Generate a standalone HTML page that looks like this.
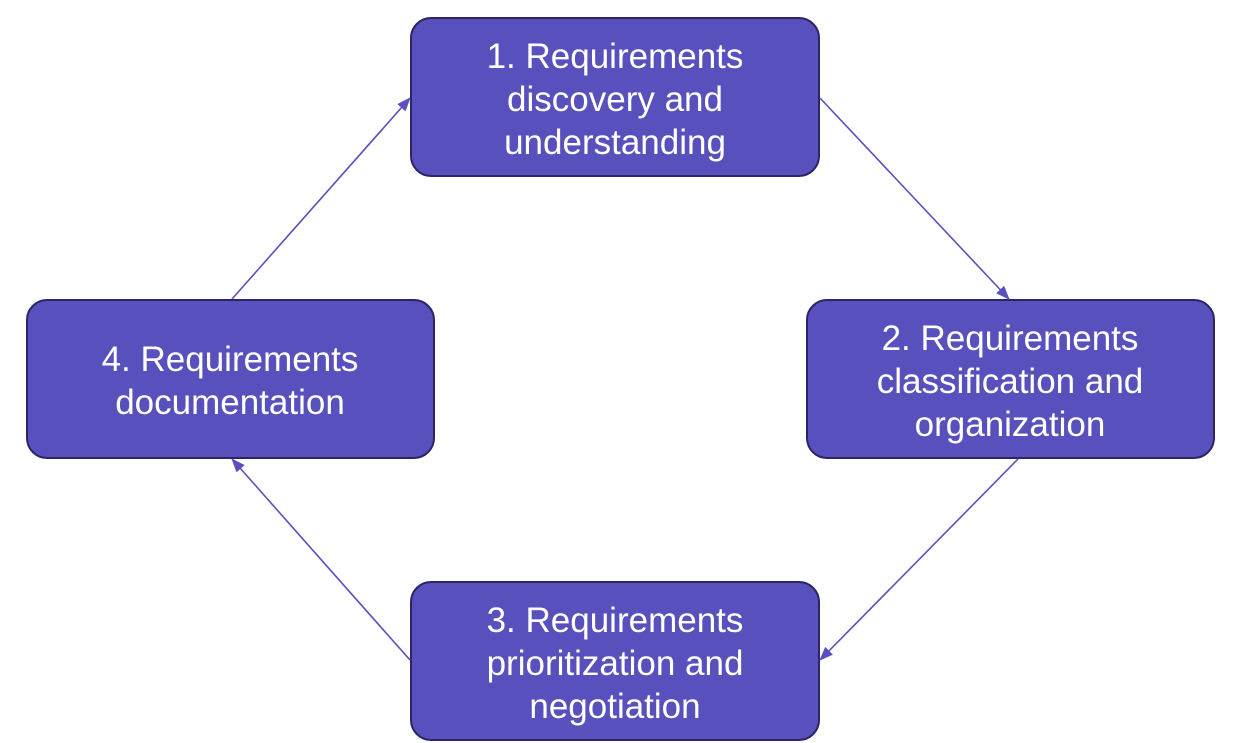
<!DOCTYPE html>
<html><head><meta charset="utf-8"><style>
html,body{margin:0;padding:0;background:#fff;}
svg{display:block;}
text{font-family:"Liberation Sans",Arial,Helvetica,sans-serif;font-size:35px;fill:#fff;text-anchor:middle;}
</style></head><body>
<svg width="1235" height="743" viewBox="0 0 1235 743" xmlns="http://www.w3.org/2000/svg">
<defs>
<marker id="a" markerWidth="14" markerHeight="11" refX="13" refY="5.5" orient="auto" markerUnits="userSpaceOnUse">
<path d="M0,0 L14,5.5 L0,11 z" fill="#5a4fc0"/>
</marker>
</defs>
<g fill="#5850bd" stroke="#2b2466" stroke-width="2">
<rect x="411" y="18" width="408" height="158" rx="20"/>
<rect x="807" y="300" width="407" height="158" rx="20"/>
<rect x="27" y="300" width="407" height="158" rx="20"/>
<rect x="411" y="582" width="408" height="158" rx="20"/>
</g>
<g stroke="#5a4fc0" stroke-width="1.6" fill="none">
<line x1="820" y1="98" x2="1009" y2="299" marker-end="url(#a)"/>
<line x1="1018" y1="459" x2="820" y2="660" marker-end="url(#a)"/>
<line x1="410" y1="660" x2="232" y2="459" marker-end="url(#a)"/>
<line x1="232" y1="299" x2="410" y2="98" marker-end="url(#a)"/>
</g>
<text x="615" y="68">1. Requirements</text>
<text x="615" y="111">discovery and</text>
<text x="615" y="154">understanding</text>
<text x="1010" y="350">2. Requirements</text>
<text x="1010" y="393">classification and</text>
<text x="1010" y="436">organization</text>
<text x="230" y="371">4. Requirements</text>
<text x="230" y="414">documentation</text>
<text x="615" y="632">3. Requirements</text>
<text x="615" y="675">prioritization and</text>
<text x="615" y="718">negotiation</text>
</svg>
</body></html>
